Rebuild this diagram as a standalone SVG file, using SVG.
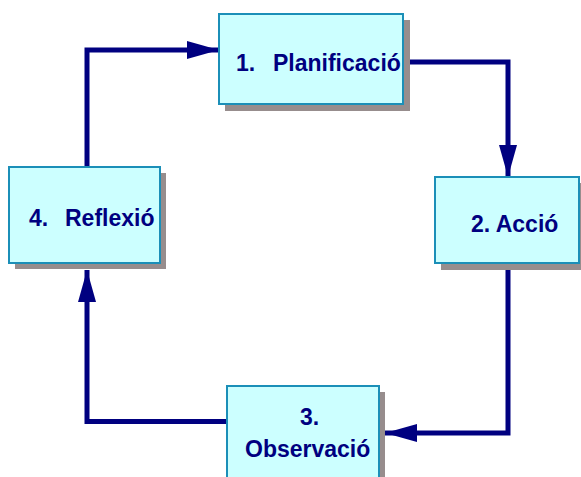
<svg xmlns="http://www.w3.org/2000/svg" width="581" height="477" viewBox="0 0 581 477">
  <style>
    .shadow { fill: #978d8d; }
    .box { fill: #ccffff; stroke: #1b8fb8; stroke-width: 2; }
    .label { font-family: "Liberation Sans", Arial, sans-serif; font-weight: bold; font-size: 23px; fill: #000080; }
    .link { fill: none; stroke: #000080; stroke-width: 5; stroke-linejoin: miter; }
  </style>
  <defs>
    <marker id="head" markerUnits="userSpaceOnUse" markerWidth="32" markerHeight="18" refX="32" refY="9" orient="auto">
      <path d="M0,0 L32,9 L0,18 z" fill="#000080"/>
    </marker>
  </defs>
  <rect width="581" height="477" fill="#ffffff"/>

  <!-- connectors -->
  <g id="connectors">
    <polyline class="link" points="87,167 87,50 219,50" marker-end="url(#head)"/>
    <polyline class="link" points="403,62 508,62 508,177" marker-end="url(#head)"/>
    <polyline class="link" points="508,263 508,433 385,433" marker-end="url(#head)"/>
    <polyline class="link" points="227,421.5 87,421.5 87,270" marker-end="url(#head)"/>
  </g>

  <!-- 1. Planificació -->
  <g id="node-planificacio">
    <rect class="shadow" x="225" y="20" width="185" height="91"/>
    <rect class="box" x="219" y="14" width="184" height="90"/>
    <text class="label" y="71"><tspan x="236">1.</tspan><tspan x="273">Planificació</tspan></text>
  </g>

  <!-- 2. Acció -->
  <g id="node-accio">
    <rect class="shadow" x="441" y="183" width="145" height="87"/>
    <rect class="box" x="435" y="177" width="144" height="86"/>
    <text class="label" x="471" y="232">2. Acció</text>
  </g>

  <!-- 3. Observació -->
  <g id="node-observacio">
    <rect class="shadow" x="233" y="392" width="152" height="90"/>
    <rect class="box" x="227" y="386" width="152" height="95"/>
    <text class="label" y="425"><tspan x="300">3.</tspan><tspan x="245" y="457">Observació</tspan></text>
  </g>

  <!-- 4. Reflexió -->
  <g id="node-reflexio">
    <rect class="shadow" x="15" y="173" width="151" height="96"/>
    <rect class="box" x="9" y="167" width="151" height="96"/>
    <text class="label" y="226"><tspan x="29">4.</tspan><tspan x="65">Reflexió</tspan></text>
  </g>
</svg>
